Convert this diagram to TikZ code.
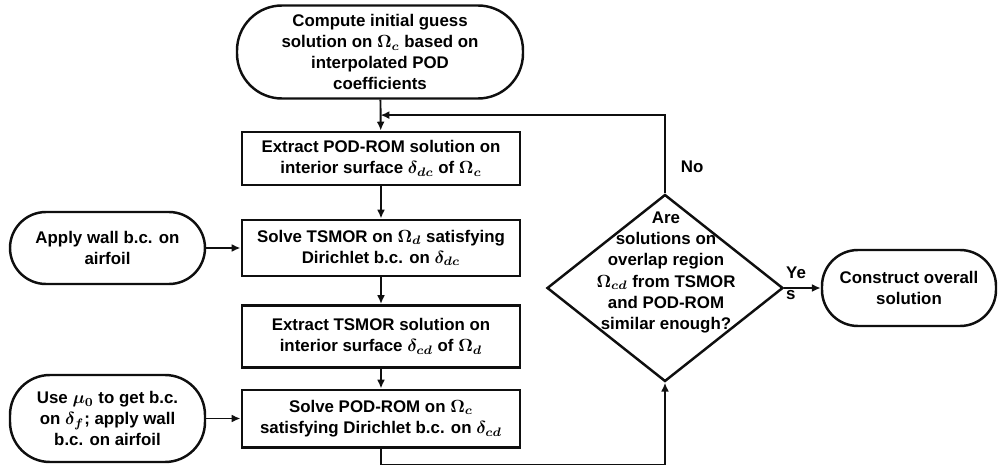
\documentclass[tikz,border=0pt]{standalone}
\usepackage{fontspec}
\setmainfont{Liberation Sans}
\usepackage{amsmath}
\usetikzlibrary{arrows.meta, shapes.geometric, calc}
\definecolor{inkblack}{RGB}{15,15,15}
\newcommand{\flowfont}{\fontsize{9.6}{12}\selectfont\bfseries}
\newcommand{\dom}[1]{$\boldsymbol{\Omega_{#1}}$}
\newcommand{\srf}[1]{$\boldsymbol{\delta_{#1}}$}
\tikzset{
  procbox/.style={draw=inkblack, line width=1.7pt, minimum width=5.56cm,
                  minimum height=#1, align=center, font=\flowfont, inner sep=2pt},
  termbox/.style={draw=inkblack, line width=1.4pt, rounded corners=0.72cm,
                  align=center, font=\flowfont, inner sep=2pt},
  decide/.style ={diamond, draw=inkblack, line width=1.4pt, aspect=1.26,
                  minimum width=4.72cm, minimum height=3.74cm, inner sep=0pt},
  arr/.style={-{Latex[length=5pt, width=4.5pt]}, line width=1.1pt, draw=inkblack},
}

\begin{document}
\begin{tikzpicture}
  \useasboundingbox (0,0) rectangle (20,-9.32);
  % main column
  \node[termbox, rounded corners=0.9cm, minimum width=5.72cm, minimum height=1.86cm]
       (init) at (7.6,-1.04)
       {Compute initial guess\\solution on \dom{c} based on\\interpolated POD\\coefficients};
  \node[procbox=1.06cm] (ext1) at (7.62,-3.17)
       {Extract POD-ROM solution on\\interior surface \srf{dc} of \dom{c}};
  \node[procbox=1.12cm] (tsm) at (7.62,-4.96)
       {Solve TSMOR on \dom{d} satisfying\\Dirichlet b.c. on \srf{dc}};
  \node[procbox=1.24cm] (ext2) at (7.62,-6.73)
       {Extract TSMOR solution on\\interior surface \srf{cd} of \dom{d}};
  \node[procbox=1.14cm] (pod) at (7.62,-8.37)
       {Solve POD-ROM on \dom{c}\\satisfying Dirichlet b.c. on \srf{cd}};
  % boundary conditions on the left
  \node[termbox, minimum width=3.9cm, minimum height=1.44cm] (wall) at (2.15,-4.96)
       {Apply wall b.c. on\\airfoil};
  \node[termbox, rounded corners=0.8cm, minimum width=3.9cm, minimum height=1.74cm]
       (usemu) at (2.15,-8.37)
       {Use $\boldsymbol{\mu_0}$ to get b.c.\\on \srf{f}; apply wall\\b.c. on airfoil};
  % convergence check
  \node[decide] (check) at (13.3,-5.76) {};
  \node[font=\flowfont, align=center, inner sep=0pt] (checktxt) at (13.32,-5.45)
       {Are\\solutions on\\overlap region\\\dom{cd} from TSMOR\\and POD-ROM\\similar enough?};
  \node[termbox, minimum width=3.48cm, minimum height=1.52cm] (done) at (18.18,-5.76)
       {Construct overall\\solution};

  \draw[arr] (init) -- (ext1);
  \draw[arr] (ext1) -- (tsm);
  \draw[arr] (tsm) -- (ext2);
  \draw[arr] (ext2) -- (pod);
  \draw[arr] (wall) -- (tsm);
  \draw[arr] (usemu) -- (pod);
  \draw[arr] (pod.south) -- ++(0,-0.32) -| (check.south);
  \draw[arr] (check.north) |- ($(init.south)!0.5!(ext1.north)$)
       node[pos=0.17, right=0.18cm, font=\flowfont] (no) {No};
  \draw[arr] (check.east) -- (done.west)
       node[pos=0, anchor=west, yshift=0.1cm, xshift=0.02cm, align=left,
            inner sep=0pt, font=\flowfont] (yes) {Ye\\s};
\end{tikzpicture}
\end{document}
